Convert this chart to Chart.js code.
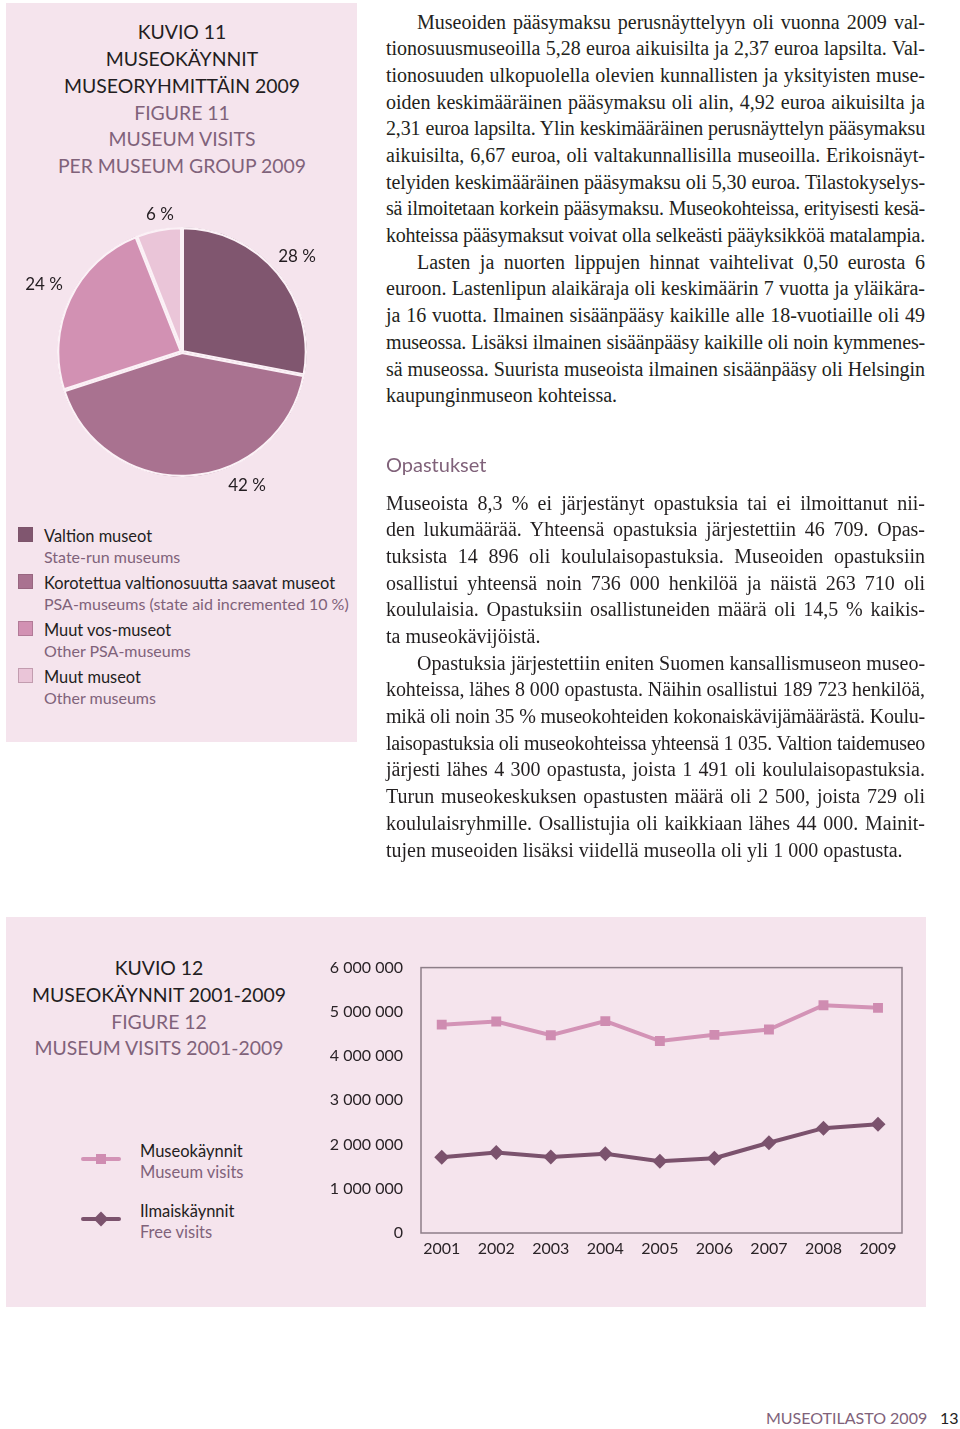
<!DOCTYPE html>
<html>
<head>
<meta charset="utf-8">
<script src="https://cdn.jsdelivr.net/npm/chart.js@4.4.0/dist/chart.umd.min.js"></script>
<style>
  html, body { margin: 0; padding: 0; background: #ffffff; }
  body { width: 960px; height: 1429px; position: relative; overflow: hidden; }
  .panel { position: absolute; background: #f5e4ed; }
  .sans { font-family: "Lato", "Noto Sans", sans-serif; font-weight: 400; }
  .t { position: absolute; white-space: nowrap; }
  .ctr { transform: translate(-50%, -50%); }
  .mid { transform: translateY(-50%); }
  .dark { color: #231d21; }
  .mauve { color: #80627a; }
  .body { position: absolute; left: 386px; width: 539px; font-family: "Liberation Serif", "DejaVu Serif", serif; font-size: 20px; color: #231f20; }
  .ln { height: 26.7px; line-height: 26.7px; white-space: nowrap; text-align: justify; text-align-last: justify; }
  .ln.last { text-align-last: left; }
  .ln.ind { padding-left: 31px; }
  .sq { position: absolute; width: 15px; height: 15px; box-sizing: border-box; border: 1px solid rgba(120,80,100,0.35); }
</style>
</head>
<body>
<script>
// ---------- DATA ----------
const pieLabels = ["Valtion museot", "Korotettua valtionosuutta saavat museot", "Muut vos-museot", "Muut museot"];
const pieLabelsEn = ["State-run museums", "PSA-museums (state aid incremented 10 %)", "Other PSA-museums", "Other museums"];
const pieValues = [28, 42, 24, 6];

const years = [2001, 2002, 2003, 2004, 2005, 2006, 2007, 2008, 2009];
const museumVisits = [4710000, 4780000, 4470000, 4790000, 4340000, 4480000, 4600000, 5150000, 5090000];
const freeVisits = [1710000, 1820000, 1720000, 1790000, 1620000, 1690000, 2040000, 2370000, 2460000];
const yTicks = [0, 1000000, 2000000, 3000000, 4000000, 5000000, 6000000];
const seriesNames = ["Museokäynnit", "Ilmaiskäynnit"];
const seriesNamesEn = ["Museum visits", "Free visits"];
</script>

<div class="panel" style="left:6px;top:3px;width:351px;height:739px;"></div>
<div class="panel" style="left:6px;top:917px;width:920px;height:390px;"></div>

<!-- Figure 11 title -->
<div class="t sans ctr dark" style="left:182px;top:31px;font-size:19.4px;">KUVIO 11</div>
<div class="t sans ctr dark" style="left:182px;top:58px;font-size:19.4px;">MUSEOKÄYNNIT</div>
<div class="t sans ctr dark" style="left:182px;top:85px;font-size:19.4px;">MUSEORYHMITTÄIN 2009</div>
<div class="t sans ctr mauve" style="left:182px;top:112px;font-size:19.4px;">FIGURE 11</div>
<div class="t sans ctr mauve" style="left:182px;top:138px;font-size:19.4px;">MUSEUM VISITS</div>
<div class="t sans ctr mauve" style="left:182px;top:165px;font-size:19.4px;">PER MUSEUM GROUP 2009</div>

<div style="position:absolute;left:57px;top:227px;width:250px;height:250px;"><canvas id="pie"></canvas></div>
<div id="pielabels"></div>
<div id="pielegend"></div>

<!-- Text block 1 -->
<div class="body" style="top:8.6px;">
  <div class="ln ind">Museoiden pääsymaksu perusnäyttelyyn oli vuonna 2009 val-</div>
  <div class="ln">tionosuusmuseoilla 5,28 euroa aikuisilta ja 2,37 euroa lapsilta. Val-</div>
  <div class="ln">tionosuuden ulkopuolella olevien kunnallisten ja yksityisten muse-</div>
  <div class="ln">oiden keskimääräinen pääsymaksu oli alin, 4,92 euroa aikuisilta ja</div>
  <div class="ln">2,31 euroa lapsilta. Ylin keskimääräinen perusnäyttelyn pääsymaksu</div>
  <div class="ln">aikuisilta, 6,67 euroa, oli valtakunnallisilla museoilla. Erikoisnäyt-</div>
  <div class="ln">telyiden keskimääräinen pääsymaksu oli 5,30 euroa. Tilastokyselys-</div>
  <div class="ln">sä ilmoitetaan korkein pääsymaksu. Museokohteissa, erityisesti kesä-</div>
  <div class="ln">kohteissa pääsymaksut voivat olla selkeästi pääyksikköä matalampia.</div>
  <div class="ln ind">Lasten ja nuorten lippujen hinnat vaihtelivat 0,50 eurosta 6</div>
  <div class="ln">euroon. Lastenlipun alaikäraja oli keskimäärin 7 vuotta ja yläikära-</div>
  <div class="ln">ja 16 vuotta. Ilmainen sisäänpääsy kaikille alle 18-vuotiaille oli 49</div>
  <div class="ln">museossa. Lisäksi ilmainen sisäänpääsy kaikille oli noin kymmenes-</div>
  <div class="ln">sä museossa. Suurista museoista ilmainen sisäänpääsy oli Helsingin</div>
  <div class="ln last">kaupunginmuseon kohteissa.</div>
</div>

<div class="t sans mid mauve" style="left:386px;top:464px;font-size:20px;">Opastukset</div>

<div class="body" style="top:489.6px;">
  <div class="ln">Museoista 8,3 % ei järjestänyt opastuksia tai ei ilmoittanut nii-</div>
  <div class="ln">den lukumäärää. Yhteensä opastuksia järjestettiin 46 709. Opas-</div>
  <div class="ln">tuksista 14 896 oli koululaisopastuksia. Museoiden opastuksiin</div>
  <div class="ln">osallistui yhteensä noin 736 000 henkilöä ja näistä 263 710 oli</div>
  <div class="ln">koululaisia. Opastuksiin osallistuneiden määrä oli 14,5 % kaikis-</div>
  <div class="ln last">ta museokävijöistä.</div>
  <div class="ln ind">Opastuksia järjestettiin eniten Suomen kansallismuseon museo-</div>
  <div class="ln">kohteissa, lähes 8 000 opastusta. Näihin osallistui 189 723 henkilöä,</div>
  <div class="ln">mikä oli noin 35 % museokohteiden kokonaiskävijämäärästä. Koulu-</div>
  <div class="ln">laisopastuksia oli museokohteissa yhteensä 1 035. Valtion taidemuseo</div>
  <div class="ln">järjesti lähes 4 300 opastusta, joista 1 491 oli koululaisopastuksia.</div>
  <div class="ln">Turun museokeskuksen opastusten määrä oli 2 500, joista 729 oli</div>
  <div class="ln">koululaisryhmille. Osallistujia oli kaikkiaan lähes 44 000. Mainit-</div>
  <div class="ln last">tujen museoiden lisäksi viidellä museolla oli yli 1 000 opastusta.</div>
</div>

<!-- Figure 12 title -->
<div class="t sans ctr dark" style="left:159px;top:967px;font-size:19.4px;">KUVIO 12</div>
<div class="t sans ctr dark" style="left:159px;top:994px;font-size:19.4px;">MUSEOKÄYNNIT 2001-2009</div>
<div class="t sans ctr mauve" style="left:159px;top:1021px;font-size:19.4px;">FIGURE 12</div>
<div class="t sans ctr mauve" style="left:159px;top:1047px;font-size:19.4px;">MUSEUM VISITS 2001-2009</div>

<div id="linelegend"></div>

<div style="position:absolute;left:310px;top:940px;width:615px;height:330px;"><canvas id="line"></canvas></div>

<div class="t sans mid mauve" style="left:766px;top:1417px;font-size:16px;">MUSEOTILASTO 2009</div>
<div class="t sans mid dark" style="left:940px;top:1417px;font-size:16px;">13</div>

<script>
// fit body lines: shrink letter-spacing if a line is too long
document.querySelectorAll('.ln').forEach(el => {
  const txt = el.textContent;
  el.innerHTML = '';
  const sp = document.createElement('span');
  sp.textContent = txt;
  el.appendChild(sp);
  const prev = el.style.textAlignLast;
  el.style.textAlignLast = 'left';
  const w = sp.getBoundingClientRect().width;
  const avail = 539 - (el.classList.contains('ind') ? 31 : 0);
  if (w > avail - 1) {
    el.style.letterSpacing = ((avail - 1 - w) / txt.length) + 'px';
  }
  el.style.textAlignLast = prev;
});

const pieColors = ["#80566f", "#a97290", "#d291b3", "#eac5d8"];
const pieLabelPos = [[297,255],[247,484],[44,283],[160,213]];

// pie labels
const pl = document.getElementById('pielabels');
pieValues.forEach((v, i) => {
  const d = document.createElement('div');
  d.className = 't sans ctr dark';
  d.style.left = pieLabelPos[i][0] + 'px';
  d.style.top = pieLabelPos[i][1] + 'px';
  d.style.fontSize = '17px';
  d.textContent = v + ' %';
  pl.appendChild(d);
});

// pie legend
const lg = document.getElementById('pielegend');
pieLabels.forEach((name, i) => {
  const top = 535 + i * 47;
  const sq = document.createElement('div');
  sq.className = 'sq';
  sq.style.left = '18px'; sq.style.top = (top - 8) + 'px';
  sq.style.background = pieColors[i];
  lg.appendChild(sq);
  const a = document.createElement('div');
  a.className = 't sans mid dark';
  a.style.left = '44px'; a.style.top = top + 'px'; a.style.fontSize = '16.4px';
  a.textContent = name;
  lg.appendChild(a);
  const b = document.createElement('div');
  b.className = 't sans mid mauve';
  b.style.left = '44px'; b.style.top = (top + 21) + 'px'; b.style.fontSize = '16px';
  b.textContent = pieLabelsEn[i];
  lg.appendChild(b);
});

new Chart(document.getElementById('pie'), {
  type: 'pie',
  data: {
    labels: pieLabels,
    datasets: [{
      data: pieValues,
      backgroundColor: pieColors,
      borderColor: '#fbf1f6',
      borderWidth: 2,
      borderAlign: 'inner'
    }]
  },
  options: {
    responsive: true,
    maintainAspectRatio: false,
    animation: false,
    layout: { padding: 0 },
    plugins: { legend: { display: false }, tooltip: { enabled: false } }
  }
});

// line legend
const lineColors = ["#d393b6", "#7b526d"];
const ll = document.getElementById('linelegend');
seriesNames.forEach((name, i) => {
  const cy = 1159 + i * 60;
  const line = document.createElement('div');
  line.style.cssText = `position:absolute;left:81px;top:${cy-2}px;width:40px;height:4px;border-radius:2px;background:${lineColors[i]};`;
  ll.appendChild(line);
  const mk = document.createElement('div');
  if (i === 0) {
    mk.style.cssText = `position:absolute;left:96px;top:${cy-5}px;width:10px;height:10px;background:#cf8cb1;`;
  } else {
    mk.style.cssText = `position:absolute;left:96px;top:${cy-5}px;width:10px;height:10px;background:${lineColors[i]};transform:rotate(45deg) scale(1.05,1.05);`;
  }
  ll.appendChild(mk);
  const a = document.createElement('div');
  a.className = 't sans mid dark';
  a.style.left = '140px'; a.style.top = (cy - 8) + 'px'; a.style.fontSize = '16.5px';
  a.textContent = name;
  ll.appendChild(a);
  const b = document.createElement('div');
  b.className = 't sans mid mauve';
  b.style.left = '140px'; b.style.top = (cy + 13) + 'px'; b.style.fontSize = '16.5px';
  b.textContent = seriesNamesEn[i];
  ll.appendChild(b);
});

const boxPlugin = {
  id: 'box',
  beforeDatasetsDraw(chart) {
    const a = chart.chartArea, ctx = chart.ctx;
    ctx.save();
    ctx.strokeStyle = '#8d7e88';
    ctx.lineWidth = 1.5;
    ctx.strokeRect(a.left, a.top, a.right - a.left, a.bottom - a.top);
    ctx.restore();
  }
};

const fmt = v => String(Math.round(v)).replace(/\B(?=(\d{3})+(?!\d))/g, ' ');

new Chart(document.getElementById('line'), {
  type: 'line',
  data: {
    datasets: [
      {
        label: seriesNames[0],
        data: years.map((y, i) => ({ x: y, y: museumVisits[i] })),
        borderColor: lineColors[0],
        backgroundColor: '#cf8cb1',
        borderWidth: 4,
        pointStyle: 'rect',
        pointRadius: 7,
        pointBorderWidth: 0,
        pointBackgroundColor: '#cf8cb1',
        tension: 0
      },
      {
        label: seriesNames[1],
        data: years.map((y, i) => ({ x: y, y: freeVisits[i] })),
        borderColor: lineColors[1],
        backgroundColor: lineColors[1],
        borderWidth: 4,
        pointStyle: 'rectRot',
        pointRadius: 7.5,
        pointBorderWidth: 0,
        pointBackgroundColor: lineColors[1],
        tension: 0
      }
    ]
  },
  options: {
    responsive: true,
    maintainAspectRatio: false,
    animation: false,
    layout: { padding: { top: 23, right: 23, left: 0, bottom: 0 } },
    plugins: { legend: { display: false }, tooltip: { enabled: false } },
    scales: {
      x: {
        type: 'linear',
        min: 2000.62,
        max: 2009.44,
        grid: { display: false, drawTicks: false },
        border: { display: false },
        afterBuildTicks: (axis) => { axis.ticks = years.map(v => ({ value: v })); },
        afterFit: (scale) => { scale.height = 37; },
        ticks: {
          padding: 6,
          color: '#2a2327',
          font: { family: 'Lato', size: 16 },
          callback: v => String(v),
          autoSkip: false,
          maxRotation: 0
        }
      },
      y: {
        min: 0,
        max: 6000000,
        grid: { display: false, drawTicks: false },
        border: { display: false },
        afterBuildTicks: (axis) => { axis.ticks = yTicks.map(v => ({ value: v })); },
        afterFit: (scale) => { scale.width = 111; },
        ticks: {
          padding: 18,
          color: '#2a2327',
          font: { family: 'Lato', size: 16 },
          callback: v => fmt(v)
        }
      }
    }
  },
  plugins: [boxPlugin]
});
</script>
</body>
</html>
